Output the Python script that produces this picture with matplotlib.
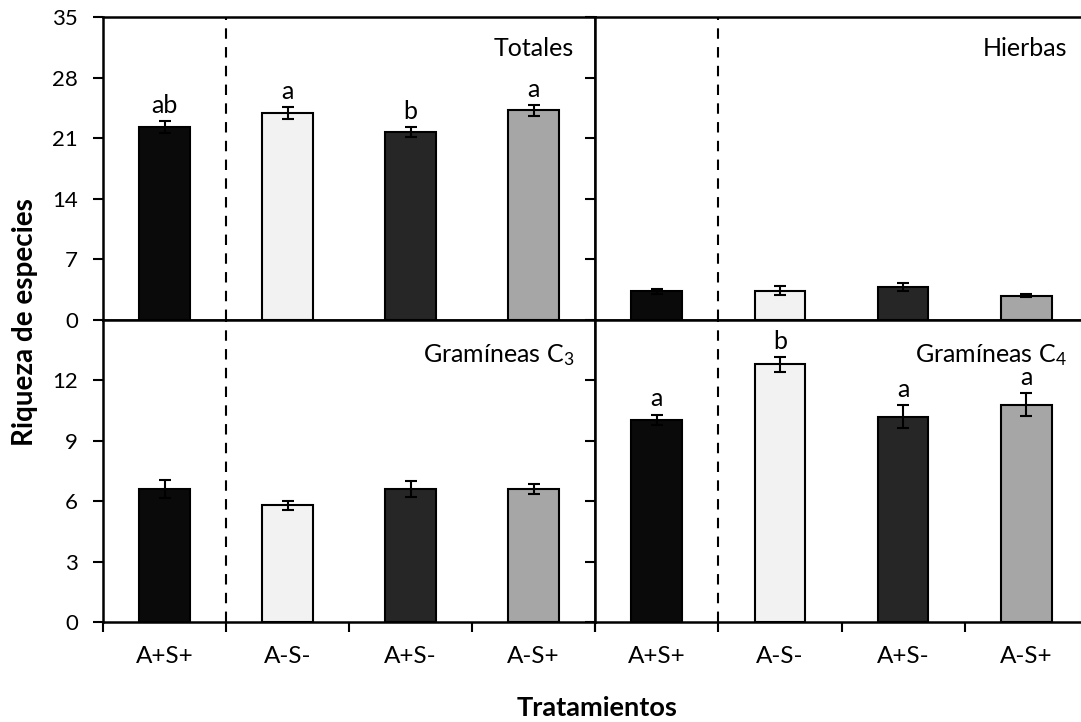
import matplotlib
matplotlib.use("Agg")
import matplotlib.pyplot as plt
import numpy as np

plt.rcParams['font.family'] = ['Lato', 'DejaVu Sans']
plt.rcParams['mathtext.fontset'] = 'custom'
plt.rcParams['mathtext.rm'] = 'Lato'
plt.rcParams['mathtext.it'] = 'Lato:italic'

# treatments (same order in every panel)
tratamientos = ["A+S+", "A-S-", "A+S-", "A-S+"]
colores = ["#0a0a0a", "#f2f2f2", "#262626", "#a6a6a6"]

# species richness, mean and standard error
totales = [22.3, 23.9, 21.7, 24.2]
totales_err = [0.65, 0.7, 0.6, 0.6]
totales_letras = ["ab", "a", "b", "a"]

hierbas = [3.3, 3.4, 3.8, 2.8]
hierbas_err = [0.27, 0.54, 0.48, 0.19]

c3 = [6.6, 5.8, 6.6, 6.6]
c3_err = [0.43, 0.22, 0.41, 0.23]

c4 = [10.05, 12.8, 10.2, 10.8]
c4_err = [0.25, 0.37, 0.58, 0.57]
c4_letras = ["a", "b", "a", "a"]

fig = plt.figure(figsize=(10.81, 7.22), dpi=100)

x0, xm, x1 = 103 / 1081, 595 / 1081, 1088 / 1081
y_top, y_mid, y_bot = 1 - 17 / 722, 1 - 320 / 722, 1 - 622 / 722

paneles = [
    # (rect, values, errors, letters, title, ymax, ystep, left, bottom)
    ([x0, y_mid, xm - x0, y_top - y_mid], totales, totales_err, totales_letras, "Totales", 35, 7, True, False),
    ([xm, y_mid, x1 - xm, y_top - y_mid], hierbas, hierbas_err, None, "Hierbas", 35, 7, False, False),
    ([x0, y_bot, xm - x0, y_mid - y_bot], c3, c3_err, None, "Gramíneas C$_3$", 15, 3, True, True),
    ([xm, y_bot, x1 - xm, y_mid - y_bot], c4, c4_err, c4_letras, "Gramíneas C$_4$", 15, 3, False, True),
]

x = np.arange(len(tratamientos)) + 0.5

for rect, vals, errs, letras, titulo, ymax, ystep, izq, abajo in paneles:
    ax = fig.add_axes(rect)
    ax.bar(x, vals, width=0.41, color=colores, edgecolor="black", linewidth=1.5, zorder=3)
    ax.errorbar(x, vals, yerr=errs, fmt="none", ecolor="black", elinewidth=1.5,
                capsize=4, capthick=1.5, zorder=4)
    ax.axvline(1, color="black", linestyle=(0, (5, 4)), linewidth=1.5, zorder=2)
    ax.set_xlim(0, 4)
    ax.set_ylim(0, ymax)
    if abajo:
        ax.set_yticks(np.arange(0, ymax, ystep))
    else:
        ax.set_yticks(np.arange(0, ymax + 0.1, ystep))
    ax.tick_params(axis="y", direction="out", length=7, width=1.5, labelsize=16,
                   labelleft=izq, pad=11)
    # category labels centred, tick marks at the boundaries
    ax.set_xticks(x)
    ax.set_xticks(np.arange(0, 5), minor=True)
    if abajo:
        ax.set_xticklabels(tratamientos, fontsize=17.5)
        ax.tick_params(axis="x", which="major", length=0, pad=17)
        ax.tick_params(axis="x", which="minor", direction="out", length=7, width=1.5)
    else:
        ax.set_xticklabels([])
        ax.tick_params(axis="x", which="both", length=0)
    for s in ax.spines.values():
        s.set_linewidth(1.8)
    ax.text(0.957, 0.871 if not abajo else 0.861, titulo, transform=ax.transAxes,
            ha="right", va="baseline", fontsize=18)
    if letras:
        for xi, v, e, l in zip(x, vals, errs, letras):
            ax.annotate(l, (xi, v + e), xytext=(0, 3), textcoords="offset points",
                        ha="center", va="bottom", fontsize=18)

fig.text(25 / 1081, 1 - 322 / 722, "Riqueza de especies", rotation=90, ha="center",
         va="center", fontsize=20, fontweight="bold")
fig.text(597 / 1081, 1 - 708 / 722, "Tratamientos", ha="center", va="center",
         fontsize=19.5, fontweight="bold")

fig.savefig("out.png", dpi=100)
